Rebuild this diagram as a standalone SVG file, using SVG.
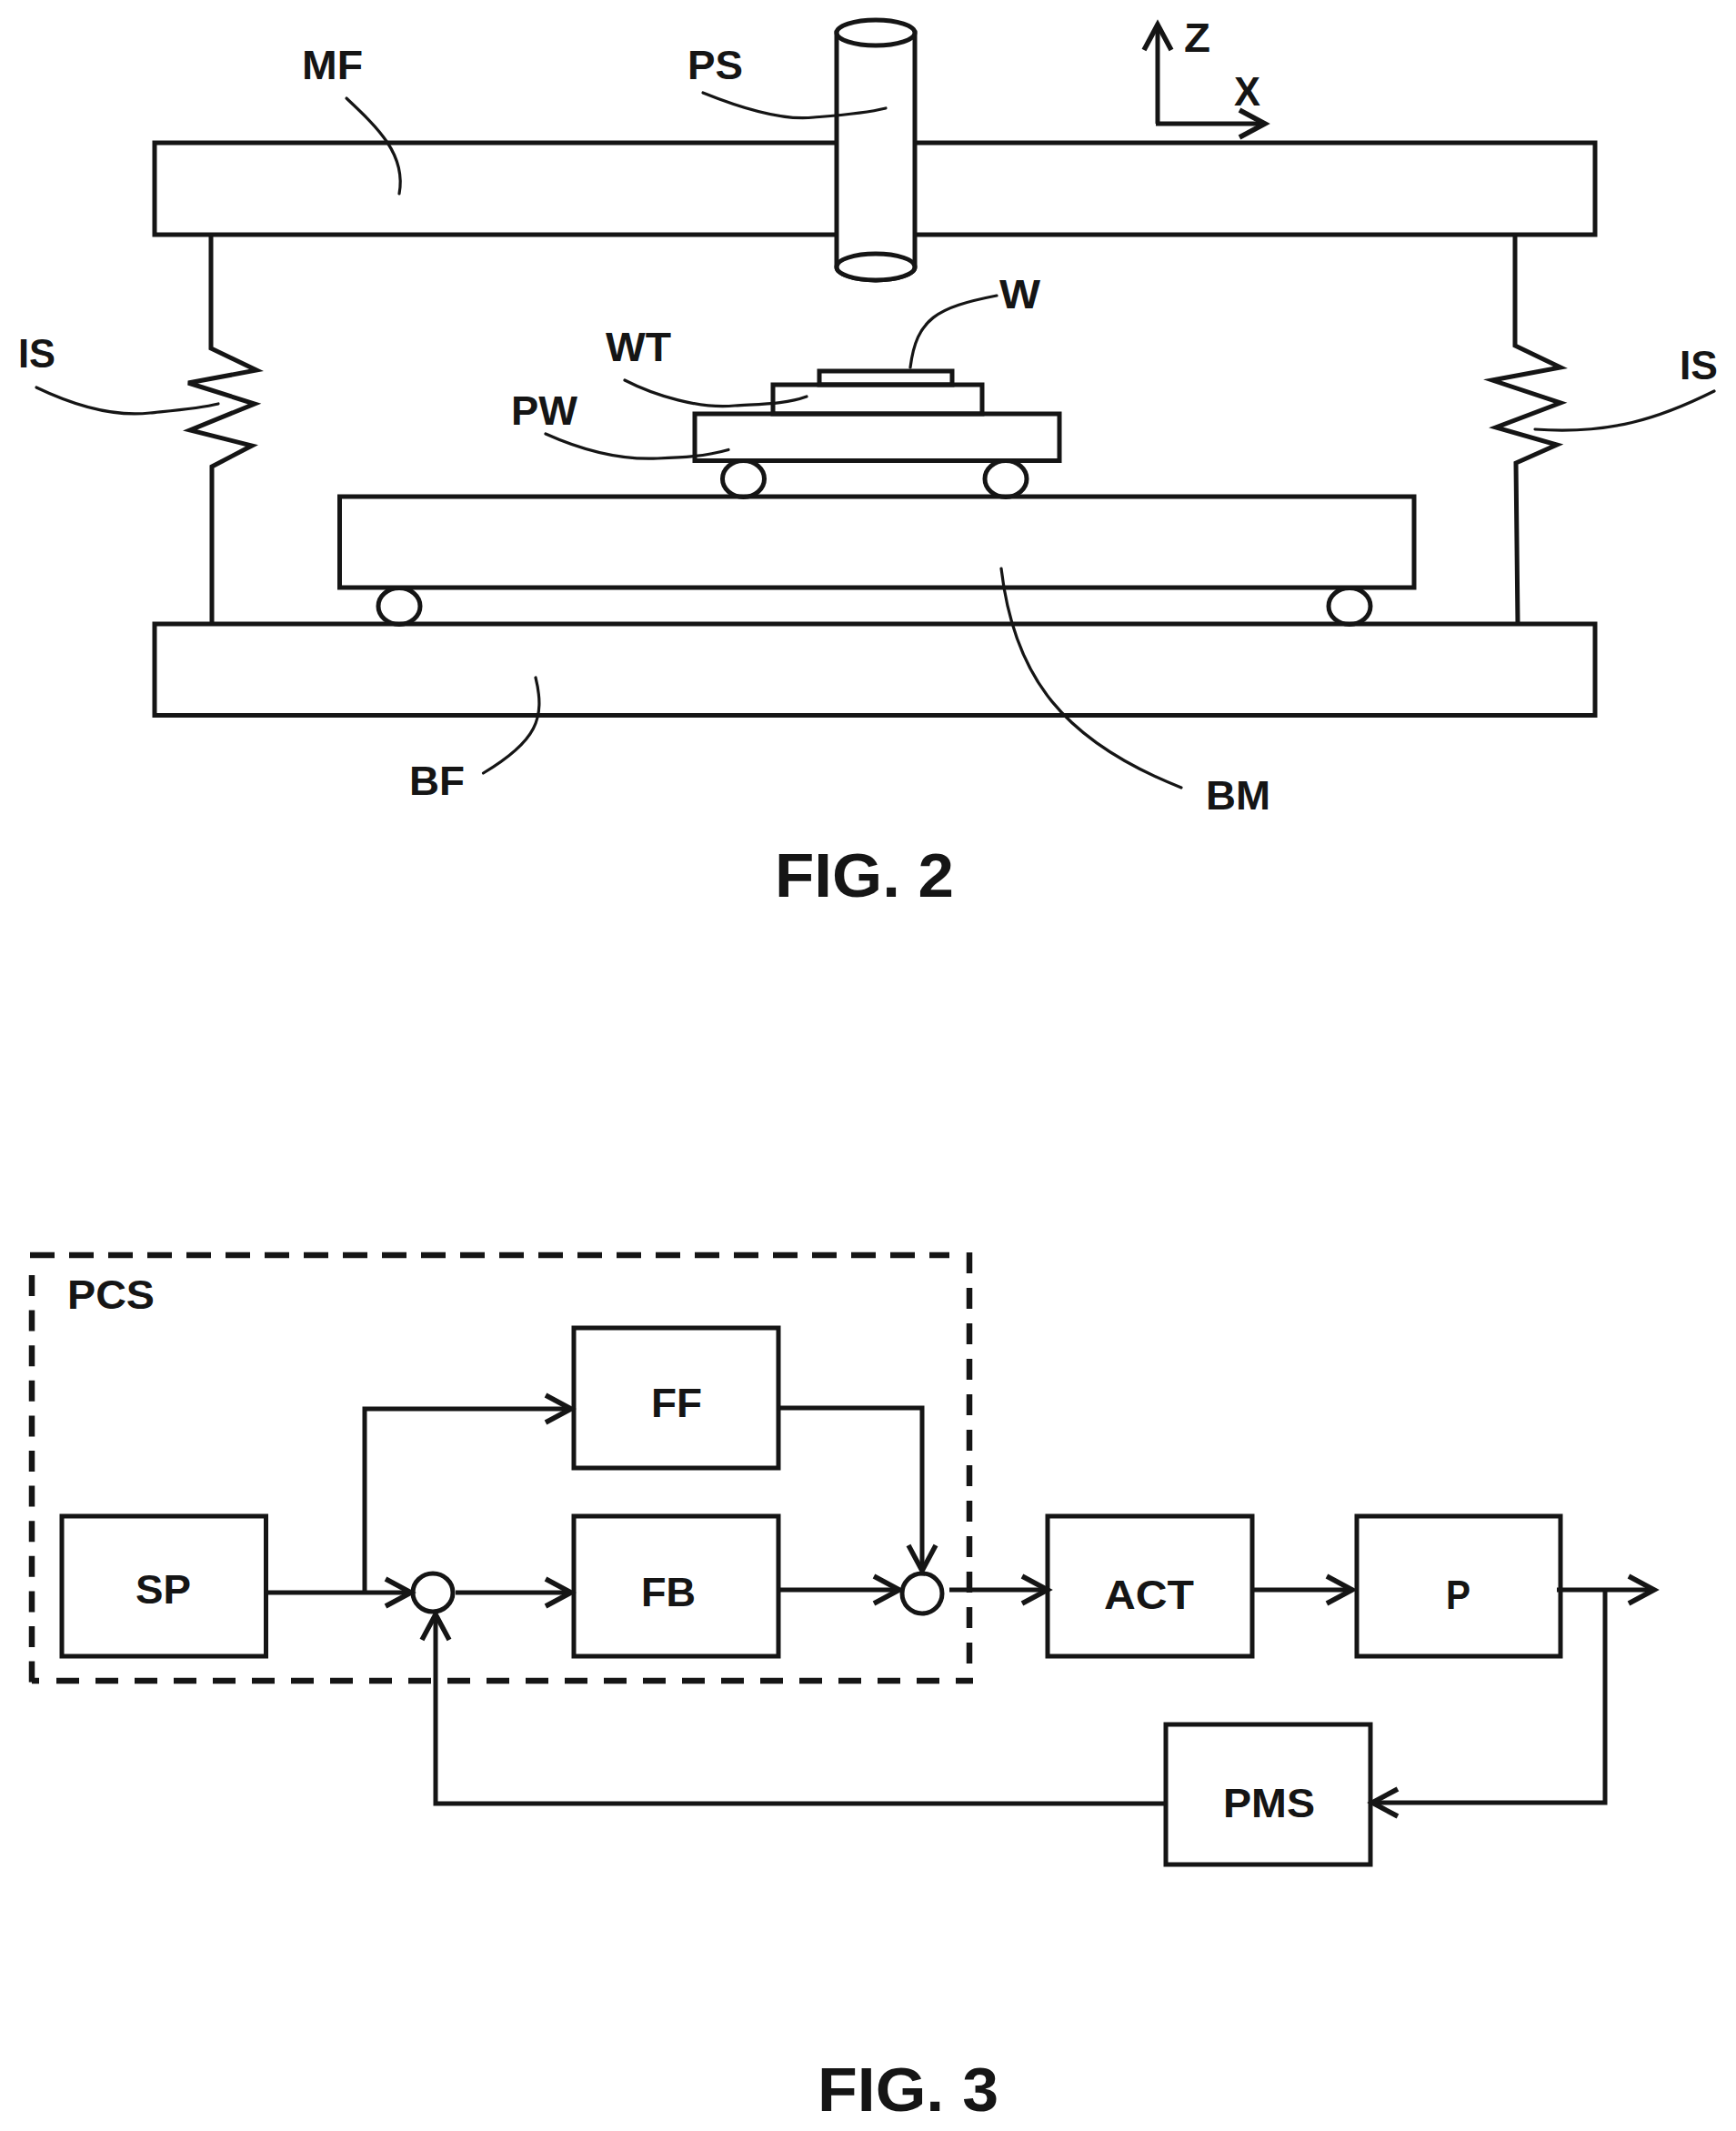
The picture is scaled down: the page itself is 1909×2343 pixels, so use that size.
<svg xmlns="http://www.w3.org/2000/svg" width="1909" height="2343" viewBox="0 0 1909 2343">
<style>
.b{fill:none;stroke:#151515;stroke-width:5}
.w{fill:#fff;stroke:#151515;stroke-width:5}
.c{fill:none;stroke:#151515;stroke-width:5;stroke-linejoin:miter}
.a{marker-end:url(#chev)}
.l{fill:none;stroke:#151515;stroke-width:3.2;stroke-linecap:round}
.d{fill:none;stroke:#151515;stroke-width:6.5}
text{font-family:"Liberation Sans",Arial,sans-serif;font-weight:700;font-size:44px;fill:#151515}
.t{font-size:68px}
</style>
<defs>
<marker id="chev" markerUnits="userSpaceOnUse" markerWidth="40" markerHeight="44" viewBox="-34 -22 40 44" refX="0" refY="0" orient="auto">
<path d="M-28,-15 L0,0 L-28,15" fill="none" stroke="#151515" stroke-width="5.500"/>
</marker>
</defs>
<rect width="1909" height="2343" fill="#fff"/>

<g id="MF"><rect class="b" x="170" y="157" width="1584" height="101"/><text x="332" y="87" textLength="67" lengthAdjust="spacingAndGlyphs">MF</text><path class="l" d="M381,108 C415,140 447,170 439,213"/></g>
<g id="PS"><path class="w" d="M920,36 V293.500 A43,14.500 0 0 0 1006,293.500 V36 Z"/><ellipse class="w" cx="963" cy="36" rx="43" ry="14"/><ellipse class="w" cx="963" cy="293.500" rx="43" ry="14.500"/><text x="756" y="87" textLength="61" lengthAdjust="spacingAndGlyphs">PS</text><path class="l" d="M773,102 C830,125 870,132 895,129 C920,127 950,125 974,119"/></g>
<g id="axes"><path class="c a" d="M1273,136 V27"/><path class="c a" d="M1271,136 H1391"/><text x="1302" y="57" textLength="29" lengthAdjust="spacingAndGlyphs">Z</text><text x="1357" y="116" textLength="29" lengthAdjust="spacingAndGlyphs">X</text></g>
<g id="IS-left"><path class="b" d="M232,258 V383 L282,407 L207,421 L280,444 L209,473 L277,490 L233,513 V686"/><text x="20" y="404" textLength="41" lengthAdjust="spacingAndGlyphs">IS</text><path class="l" d="M40,426 C90,450 130,458 165,454 C195,451 220,449 240,444"/></g>
<g id="IS-right"><path class="b" d="M1666,258 V380 L1716,404 L1641,418 L1716,443 L1645,470 L1712,489 L1667,509 L1669,686"/><text x="1847" y="417" textLength="42" lengthAdjust="spacingAndGlyphs">IS</text><path class="l" d="M1688,472 C1770,478 1825,460 1885,430"/></g>
<g id="W"><rect class="b" x="901" y="408" width="146" height="15"/><text x="1099" y="339" textLength="45" lengthAdjust="spacingAndGlyphs">W</text><path class="l" d="M1001,404 C1008,350 1030,338 1096,325"/></g>
<g id="WT"><rect class="b" x="850" y="423" width="230" height="32"/><text x="666" y="397" textLength="72" lengthAdjust="spacingAndGlyphs">WT</text><path class="l" d="M687,418 C720,435 770,450 808,446 C840,444 865,444 887,436"/></g>
<g id="PW"><rect class="b" x="764" y="455" width="401" height="51.500"/><text x="562" y="467" textLength="73" lengthAdjust="spacingAndGlyphs">PW</text><path class="l" d="M600,477 C640,495 680,506 723,504 C750,503 775,502 801,494.500"/></g>
<g id="wheels"><ellipse class="w" cx="817.500" cy="526.500" rx="23" ry="20"/><ellipse class="w" cx="1106" cy="526.500" rx="23" ry="20"/><ellipse class="w" cx="439" cy="666.500" rx="23" ry="20"/><ellipse class="w" cx="1484" cy="666.500" rx="23" ry="20"/></g>
<g id="BM"><rect class="b" x="373.500" y="546" width="1181.500" height="100"/><text x="1326" y="890" textLength="71" lengthAdjust="spacingAndGlyphs">BM</text><path class="l" d="M1101,625 C1115,745 1170,815 1299,866"/></g>
<g id="BF"><rect class="b" x="170" y="686" width="1584" height="100.500"/><text x="450" y="874" textLength="61" lengthAdjust="spacingAndGlyphs">BF</text><path class="l" d="M589,745 C600,790 590,815 531.500,850"/></g>
<text id="fig2" class="t" x="852" y="986" textLength="197" lengthAdjust="spacingAndGlyphs">FIG. 2</text>

<g id="PCS"><path class="d" stroke-dasharray="27 16" d="M33,1380 H1044"/><path class="d" stroke-dasharray="23 15.600" d="M35,1402 V1851"/><path class="d" stroke-dasharray="23 16" d="M1066,1377 V1829"/><path class="d" d="M35,1848 H43"/><path class="d" stroke-dasharray="25 18" d="M62,1848 H1070"/><text x="74" y="1439" textLength="96" lengthAdjust="spacingAndGlyphs">PCS</text></g>
<g id="SP"><rect class="b" x="68" y="1667" width="224.500" height="154"/><text x="149" y="1763" textLength="61" lengthAdjust="spacingAndGlyphs">SP</text></g>
<g id="FF"><rect class="b" x="631" y="1460" width="225" height="154"/><text x="716" y="1558" textLength="56" lengthAdjust="spacingAndGlyphs">FF</text></g>
<g id="FB"><rect class="b" x="631" y="1667" width="225" height="154"/><text x="705" y="1766" textLength="60" lengthAdjust="spacingAndGlyphs">FB</text></g>
<g id="ACT"><rect class="b" x="1152" y="1667" width="225" height="154"/><text x="1214" y="1769" textLength="99" lengthAdjust="spacingAndGlyphs">ACT</text></g>
<g id="P"><rect class="b" x="1492" y="1667" width="224" height="154"/><text x="1590" y="1769" textLength="27" lengthAdjust="spacingAndGlyphs">P</text></g>
<g id="PMS"><rect class="b" x="1282" y="1896" width="225" height="154"/><text x="1345" y="1998" textLength="101" lengthAdjust="spacingAndGlyphs">PMS</text></g>
<g id="sum1"><ellipse class="b" cx="476" cy="1751" rx="22" ry="21"/></g>
<g id="sum2"><ellipse class="b" cx="1014" cy="1752" rx="22" ry="22"/></g>

<g id="connectors">
<path class="c a" d="M293,1751 H452"/>
<path class="c a" d="M401,1751 V1549 H628"/>
<path class="c a" d="M501,1751 H628"/>
<path class="c a" d="M856,1548 H1014 V1727"/>
<path class="c a" d="M856,1748 H989"/>
<path class="c a" d="M1044,1748 H1152"/>
<path class="c a" d="M1377,1748 H1487"/>
<path class="c a" d="M1712,1748 H1819"/>
<path class="c a" d="M1765,1748 V1982 H1509"/>
<path class="c a" d="M1282,1983 H479 V1775"/>
</g>
<text id="fig3" class="t" x="899" y="2321" textLength="199" lengthAdjust="spacingAndGlyphs">FIG. 3</text>
</svg>
